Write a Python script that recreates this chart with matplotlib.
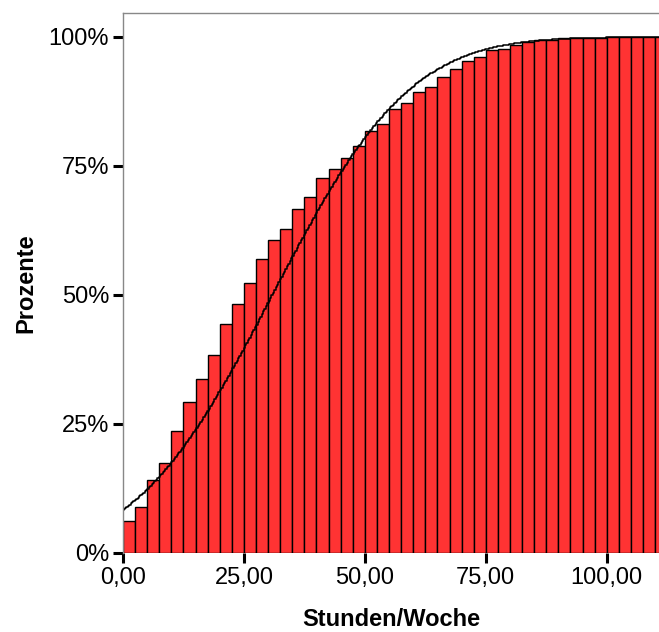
import math
import matplotlib
matplotlib.use("Agg")
import matplotlib.pyplot as plt
import numpy as np

# cumulative percentages per 2.5 h bin
bin_width = 2.5
cum_pct = [6.1, 8.9, 14.0, 17.3, 23.6, 29.3, 33.7, 38.4, 44.3, 48.3,
           52.3, 57.0, 60.6, 62.8, 66.7, 68.9, 72.6, 74.4, 76.6, 78.8,
           81.7, 83.1, 86.0, 87.2, 89.3, 90.4, 92.3, 93.7, 95.4, 96.2,
           97.4, 97.7, 98.4, 99.1, 99.4, 99.5, 99.8, 99.8, 99.8, 99.8,
           100.0, 100.0, 100.0, 100.0, 100.0]
# fitted normal curve
mean_h = 30.9
sd_h = 22.3

y_ticks = [0, 25, 50, 75, 100]
y_labels = ["0%", "25%", "50%", "75%", "100%"]
x_ticks = [0, 25, 50, 75, 100]
x_labels = ["0,00", "25,00", "50,00", "75,00", "100,00"]

plt.rcParams['font.family'] = ['Liberation Sans', 'DejaVu Sans']

fig = plt.figure(figsize=(6.59, 6.32), dpi=100)
ax = fig.add_axes([0.1866, 0.1255, 0.8134, 0.8535])

lefts = np.arange(len(cum_pct)) * bin_width
ax.bar(lefts, cum_pct, width=bin_width, align='edge',
       color='#ff3333', edgecolor='black', linewidth=1.0)

xs = np.linspace(0, 115, 400)
ys = [50 * (1 + math.erf((x - mean_h) / (sd_h * math.sqrt(2)))) for x in xs]
ax.plot(xs, ys, color='black', lw=1.1, drawstyle='steps-mid')

ax.set_xlim(0, 110.8)
ax.set_ylim(0, 104.6)
ax.set_xticks(x_ticks)
ax.set_xticklabels(x_labels)
ax.set_yticks(y_ticks)
ax.set_yticklabels(y_labels)
ax.tick_params(axis='both', direction='out', length=7, width=2.2,
               labelsize=17, color='black', pad=3)

for s in ['left', 'top']:
    ax.spines[s].set_color('#888888')
    ax.spines[s].set_linewidth(1.0)
ax.spines['right'].set_visible(False)
ax.spines['bottom'].set_visible(False)

ax.set_xlabel("Stunden/Woche", fontsize=17, fontweight='bold', labelpad=14)
ax.set_ylabel("Prozente", fontsize=17, fontweight='bold', labelpad=8)

plt.savefig("out.png", dpi=100)
